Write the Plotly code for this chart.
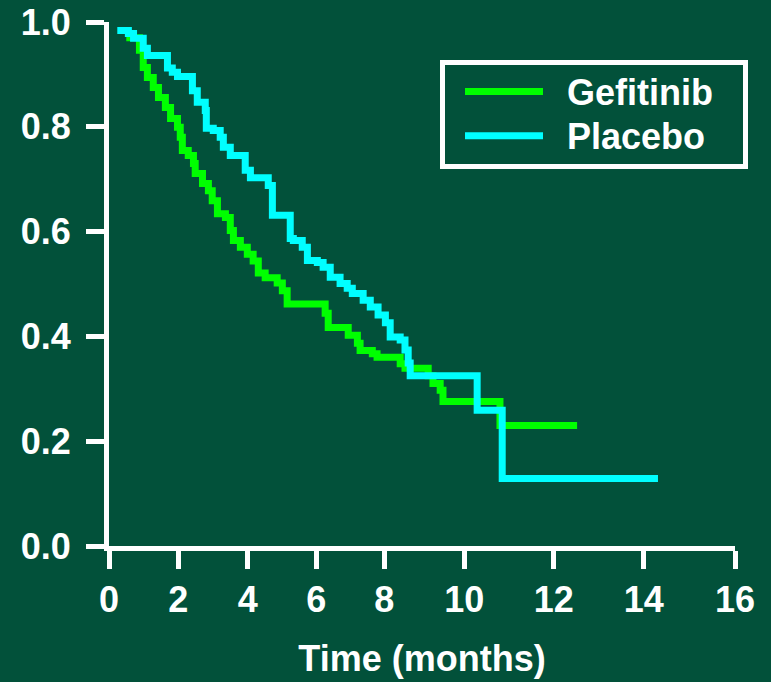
import numpy as np
import plotly.graph_objects as go

# ---------------- data ----------------
series_names = ["Gefitinib", "Placebo"]
series_colors = ["#00FF00", "#00FFFF"]

gefitinib_months = [0.50, 0.88, 0.99, 1.11, 1.28, 1.43, 1.63, 1.78, 1.98, 2.06, 2.12,
                    2.29, 2.44, 2.49, 2.70, 2.87, 2.98, 3.13, 3.36, 3.50, 3.59, 3.79,
                    3.99, 4.16, 4.31, 4.51, 4.86, 5.01, 5.15, 6.26, 6.35, 6.94, 7.21,
                    7.29, 7.65, 7.79, 8.40, 8.52, 9.10, 9.22, 9.40, 9.47, 10.80, 12.52]
gefitinib_survival = [0.970, 0.946, 0.913, 0.894, 0.875, 0.856, 0.837, 0.816, 0.799, 0.780,
                      0.755, 0.745, 0.730, 0.711, 0.692, 0.678, 0.659, 0.634, 0.627, 0.602,
                      0.583, 0.570, 0.557, 0.544, 0.521, 0.512, 0.502, 0.487, 0.462, 0.444,
                      0.417, 0.402, 0.387, 0.373, 0.367, 0.360, 0.348, 0.339, 0.325, 0.310,
                      0.297, 0.276, 0.230, 0.230]

placebo_months = [0.24, 0.56, 0.71, 0.99, 1.11, 1.69, 1.83, 1.98, 2.41, 2.55, 2.78, 2.81,
                  3.01, 3.21, 3.30, 3.50, 3.93, 4.08, 4.60, 4.72, 5.24, 5.33, 5.59, 5.74,
                  6.03, 6.20, 6.41, 6.70, 6.91, 7.06, 7.38, 7.59, 7.82, 8.03, 8.15, 8.40,
                  8.52, 8.60, 8.65, 10.29, 10.85, 14.31]
placebo_survival = [0.984, 0.978, 0.969, 0.950, 0.936, 0.912, 0.904, 0.896, 0.869, 0.847,
                    0.831, 0.797, 0.793, 0.780, 0.761, 0.745, 0.717, 0.703, 0.688, 0.631,
                    0.587, 0.583, 0.570, 0.545, 0.541, 0.532, 0.513, 0.501, 0.492, 0.482,
                    0.469, 0.456, 0.441, 0.426, 0.399, 0.393, 0.374, 0.349, 0.325, 0.259,
                    0.129, 0.129]

x_tick_labels = [0, 2, 4, 6, 8, 10, 12, 14, 16]
y_tick_values = [0.0, 0.2, 0.4, 0.6, 0.8, 1.0]
x_title = "Time (months)"

# The printed time axis is not evenly spaced: fraction of the axis length
# at which each labelled month sits.
x_tick_fraction = [0.0, 0.1105, 0.2215, 0.3312, 0.4396, 0.5674, 0.7103, 0.8544, 1.0]


def axis_pos(months):
    return np.interp(np.asarray(months, dtype=float), x_tick_labels, x_tick_fraction)


BG = "#02513A"
FONT = dict(family="Liberation Sans, Arial, sans-serif", size=36, color="white", weight="bold")

W, H = 771, 682
ML, MR, MT, MB = 109, 36, 22, 136
PW, PH = W - ML - MR, H - MT - MB


def px_x(p):
    return (p - ML) / PW


def px_y(p):
    return (H - MB - p) / PH


fig = go.Figure()
for name, color, m, s in [
    (series_names[0], series_colors[0], gefitinib_months, gefitinib_survival),
    (series_names[1], series_colors[1], placebo_months, placebo_survival),
]:
    fig.add_trace(go.Scatter(
        x=axis_pos(m), y=s, customdata=m, name=name, mode="lines",
        line=dict(color=color, width=7, shape="hv"),
        hovertemplate="%{customdata:.1f} months: %{y:.2f}<extra>" + name + "</extra>",
        showlegend=False,
    ))

# legend box drawn as a framed key (long line samples as in the reference)
shapes = [dict(type="rect", xref="paper", yref="paper",
               x0=px_x(442.5), x1=px_x(745.5), y0=px_y(166.5), y1=px_y(62.5),
               line=dict(color="white", width=5), fillcolor=BG, layer="above")]
annotations = []
for i, (name, color) in enumerate(zip(series_names, series_colors)):
    yc = 91.5 + i * 44.2
    shapes.append(dict(type="line", xref="paper", yref="paper",
                       x0=px_x(465), x1=px_x(543), y0=px_y(yc), y1=px_y(yc),
                       line=dict(color=color, width=7), layer="above"))
    annotations.append(dict(text=name, xref="paper", yref="paper",
                            x=px_x(565), y=px_y(yc + 1), xanchor="left", yanchor="middle",
                            showarrow=False, font=FONT))

fig.update_layout(
    width=W, height=H,
    paper_bgcolor=BG, plot_bgcolor=BG,
    margin=dict(l=ML, r=MR, t=MT, b=MB),
    font=FONT,
    showlegend=False,
    shapes=shapes, annotations=annotations,
    xaxis=dict(
        range=[0, 1], tickmode="array", tickvals=x_tick_fraction,
        ticktext=[str(v) for v in x_tick_labels], automargin=False,
        showgrid=False, zeroline=False, showline=True, linecolor="white", linewidth=5,
        ticks="outside", ticklen=18, tickwidth=5, tickcolor="white",
        tickfont=FONT,
        title=dict(text=x_title, font=FONT, standoff=28),
    ),
    yaxis=dict(
        range=[0, 1], tickmode="array", tickvals=y_tick_values,
        ticktext=[f"{v:.1f}" for v in y_tick_values], automargin=False,
        showgrid=False, zeroline=False, showline=True, linecolor="white", linewidth=5,
        ticks="outside", ticklen=18, tickwidth=5, tickcolor="white",
        tickfont=FONT, ticklabelstandoff=8,
    ),
)

fig.write_html("out.html")
